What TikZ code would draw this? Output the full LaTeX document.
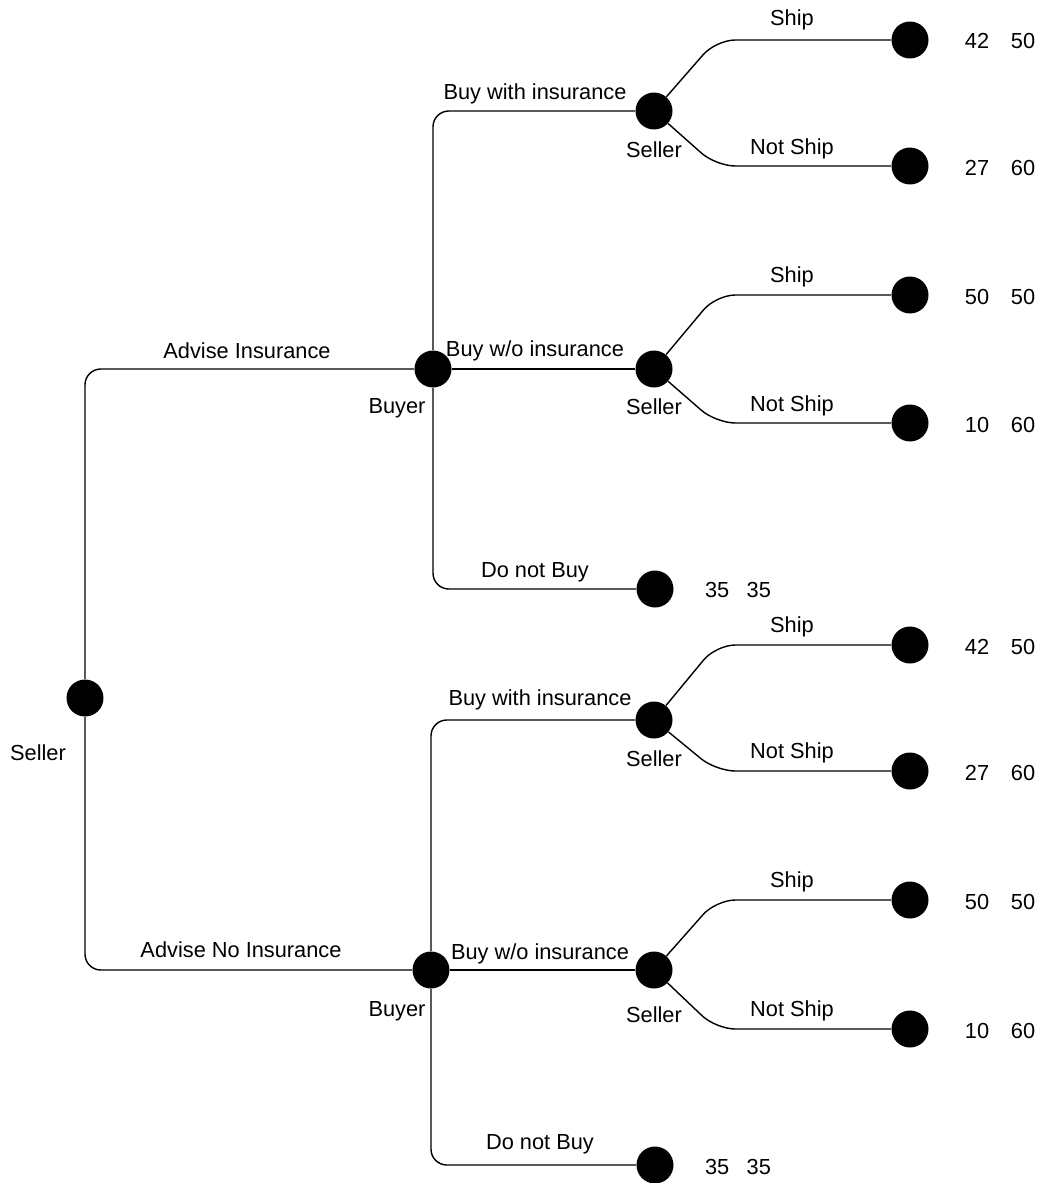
\documentclass[tikz,border=0pt]{standalone}
\usepackage{fontspec}
\setmainfont{Liberation Sans}
\usetikzlibrary{calc}

\tikzset{
  dot/.style={circle, fill=black, inner sep=0pt, minimum size=0.74cm},
  branch/.style={line width=0.8pt, rounded corners=9pt},
  move/.style={line width=0.8pt, rounded corners=11pt},
  lbl/.style={font=\fontsize{12.4}{14}\selectfont, inner sep=1pt},
}

\begin{document}
\begin{tikzpicture}[x=0.02cm, y=-0.02cm]
\useasboundingbox (0,0) rectangle (1043,1183);

% Root
\node[dot] (root) at (85,698) {};
\node[lbl] (rootlbl) at (38,753) {Seller};

% Buyer after advice
\node[dot] (buyA) at (433,369) {};
\node[lbl] (buyAlbl) at (397,408) {Buyer};
\node[dot] (buyB) at (431,970) {};
\node[lbl] (buyBlbl) at (397,1011) {Buyer};

% Seller after purchase
\node[dot] (selA) at (654,111) {};
\node[lbl] (selAlbl) at (654,150) {Seller};
\node[dot] (selB) at (654,369) {};
\node[lbl] (selBlbl) at (654,407) {Seller};
\node[dot] (selC) at (654,720) {};
\node[lbl] (selClbl) at (654,759) {Seller};
\node[dot] (selD) at (654,970) {};
\node[lbl] (selDlbl) at (654,1015) {Seller};

% No purchase
\node[dot] (nobuyA) at (655,589) {};
\node[lbl] (payNobuyA) at (738,590) {35\hspace{0.8em}35};
\node[dot] (nobuyB) at (655,1165) {};
\node[lbl] (payNobuyB) at (738,1167) {35\hspace{0.8em}35};

% Leaves
\node[dot] (shipA) at (910,40) {};
\node[dot] (noshipA) at (910,166) {};
\node[dot] (shipB) at (910,295) {};
\node[dot] (noshipB) at (910,423) {};
\node[dot] (shipC) at (910,645) {};
\node[dot] (noshipC) at (910,771) {};
\node[dot] (shipD) at (910,900) {};
\node[dot] (noshipD) at (910,1029) {};

% Payoffs
\node[lbl] (payShipA) at (1000,41) {42\hspace{1em}50};
\node[lbl] (payNoshipA) at (1000,168) {27\hspace{1em}60};
\node[lbl] (payShipB) at (1000,297) {50\hspace{1em}50};
\node[lbl] (payNoshipB) at (1000,425) {10\hspace{1em}60};
\node[lbl] (payShipC) at (1000,647) {42\hspace{1em}50};
\node[lbl] (payNoshipC) at (1000,773) {27\hspace{1em}60};
\node[lbl] (payShipD) at (1000,902) {50\hspace{1em}50};
\node[lbl] (payNoshipD) at (1000,1031) {10\hspace{1em}60};

% Seller's advice
\draw[branch] (root) |- (buyA);
\draw[branch] (root) |- (buyB);
\node[lbl] (advA) at (247,351) {Advise Insurance};
\node[lbl] (advB) at (241,950) {Advise No Insurance};

% Buyer's choice
\draw[branch] (buyA) |- (selA);
\draw[branch] (buyA) -- (selB);
\draw[branch] (buyA) |- (nobuyA);
\node[lbl] (withA) at (535,94) {Buy with insurance};
\node[lbl] (woA) at (535,351) {Buy w/o insurance};
\node[lbl] (notA) at (535,572) {Do not Buy};

\draw[branch] (buyB) |- (selC);
\draw[branch] (buyB) -- (selD);
\draw[branch] (buyB) |- (nobuyB);
\node[lbl] (withB) at (540,700) {Buy with insurance};
\node[lbl] (woB) at (540,954) {Buy w/o insurance};
\node[lbl] (notB) at (540,1144) {Do not Buy};

% Seller ships or not
\draw[move] (selA) -- ($(selA |- shipA)+(62,0)$) -- (shipA);
\draw[move] (selA) -- ($(selA |- noshipA)+(62,0)$) -- (noshipA);
\draw[move] (selB) -- ($(selB |- shipB)+(62,0)$) -- (shipB);
\draw[move] (selB) -- ($(selB |- noshipB)+(62,0)$) -- (noshipB);
\draw[move] (selC) -- ($(selC |- shipC)+(62,0)$) -- (shipC);
\draw[move] (selC) -- ($(selC |- noshipC)+(62,0)$) -- (noshipC);
\draw[move] (selD) -- ($(selD |- shipD)+(62,0)$) -- (shipD);
\draw[move] (selD) -- ($(selD |- noshipD)+(62,0)$) -- (noshipD);
\node[lbl] (shipAlbl) at (792,20) {Ship};
\node[lbl] (noshipAlbl) at (792,149) {Not Ship};
\node[lbl] (shipBlbl) at (792,277) {Ship};
\node[lbl] (noshipBlbl) at (792,406) {Not Ship};
\node[lbl] (shipClbl) at (792,627) {Ship};
\node[lbl] (noshipClbl) at (792,753) {Not Ship};
\node[lbl] (shipDlbl) at (792,882) {Ship};
\node[lbl] (noshipDlbl) at (792,1011) {Not Ship};
\end{tikzpicture}
\end{document}
